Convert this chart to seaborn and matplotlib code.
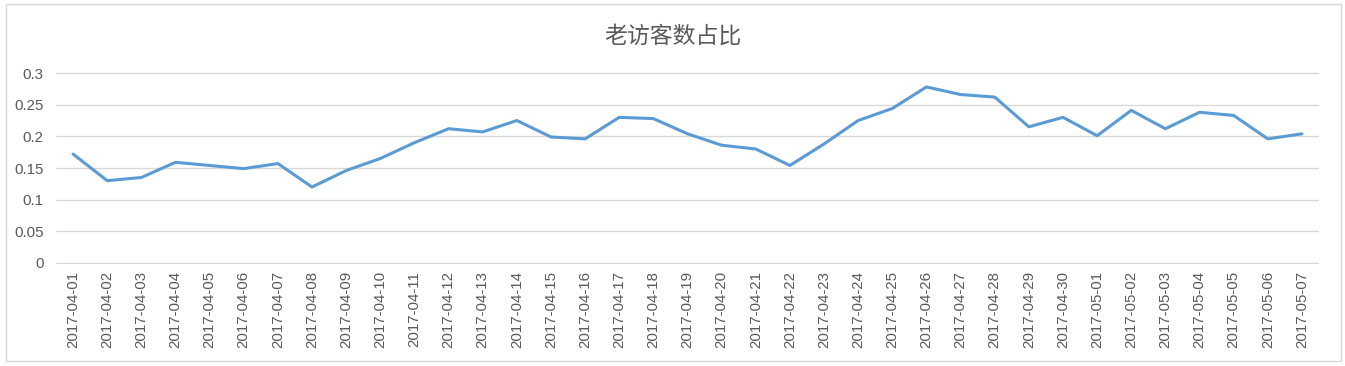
import matplotlib
matplotlib.use("Agg")
import matplotlib.pyplot as plt
import seaborn as sns
import pandas as pd
from matplotlib.patches import Rectangle

dates = [
    "2017-04-01", "2017-04-02", "2017-04-03", "2017-04-04", "2017-04-05", "2017-04-06",
    "2017-04-07", "2017-04-08", "2017-04-09", "2017-04-10", "2017-04-11", "2017-04-12",
    "2017-04-13", "2017-04-14", "2017-04-15", "2017-04-16", "2017-04-17", "2017-04-18",
    "2017-04-19", "2017-04-20", "2017-04-21", "2017-04-22", "2017-04-23", "2017-04-24",
    "2017-04-25", "2017-04-26", "2017-04-27", "2017-04-28", "2017-04-29", "2017-04-30",
    "2017-05-01", "2017-05-02", "2017-05-03", "2017-05-04", "2017-05-05", "2017-05-06",
    "2017-05-07",
]
ratio = [
    0.172, 0.130, 0.135, 0.159, 0.154, 0.149,
    0.157, 0.120, 0.146, 0.165, 0.190, 0.212,
    0.207, 0.225, 0.199, 0.196, 0.230, 0.228,
    0.204, 0.186, 0.180, 0.154, 0.188, 0.225,
    0.244, 0.278, 0.266, 0.262, 0.215, 0.230,
    0.201, 0.241, 0.212, 0.238, 0.233, 0.196,
    0.204,
]
yticks = [0, 0.05, 0.1, 0.15, 0.2, 0.25, 0.3]
ytick_labels = ["0", "0.05", "0.1", "0.15", "0.2", "0.25", "0.3"]
title = "老访客数占比"

sns.set_theme(style="white")
plt.rcParams["font.family"] = ["Liberation Sans", "Noto Sans CJK SC", "DejaVu Sans"]

df = pd.DataFrame({"date": dates, "ratio": ratio})

fig = plt.figure(figsize=(13.45, 3.66), dpi=100)
ax = fig.add_axes([56 / 1345, 102 / 366, 1263 / 1345, 192 / 366])

sns.lineplot(data=df, x="date", y="ratio", ax=ax, color="#5B9BD5", linewidth=2.2,
             sort=False)

ax.set_xlim(-0.5, len(dates) - 0.5)
ax.set_ylim(-0.0016, 0.3016)
ax.set_yticks(yticks)
ax.set_yticklabels(ytick_labels)
ax.set_xticks(range(len(dates)))
ax.set_xticklabels(dates, rotation=90)
ax.tick_params(axis="y", length=0, pad=9, labelsize=10.8, labelcolor="#595959")
ax.tick_params(axis="x", length=0, pad=5, labelsize=10.8, labelcolor="#595959")
ax.set_xlabel("")
ax.set_ylabel("")
for s in ax.spines.values():
    s.set_visible(False)
ax.yaxis.grid(True, color="#D9D9D9", linewidth=1.0)
ax.xaxis.grid(False)
ax.set_axisbelow(True)

fig.text(0.5, 1 - 36 / 366, title, ha="center", va="center", fontsize=16.5,
         color="#595959", family=["Noto Sans CJK SC", "DejaVu Sans"])

fig.patches.append(Rectangle((5.5 / 1345, 5.5 / 366), 1335 / 1345, 357 / 366,
                             transform=fig.transFigure, fill=False,
                             edgecolor="#D9D9D9", linewidth=1.0))

fig.savefig("out.png", dpi=100, facecolor="white")
